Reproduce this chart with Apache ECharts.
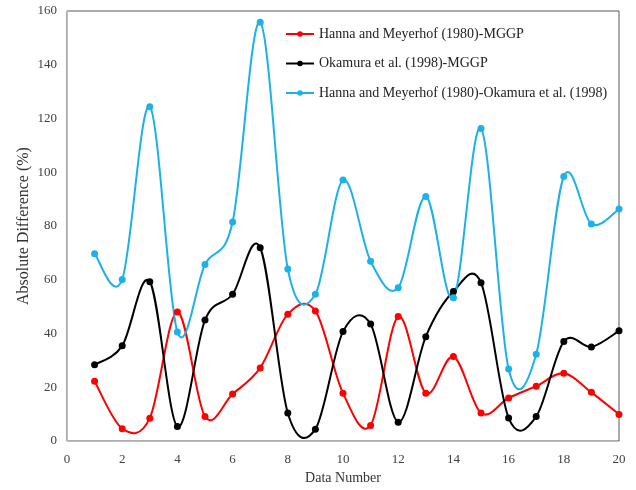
<!DOCTYPE html>
<html>
<head>
<meta charset="utf-8">
<script src="https://cdn.jsdelivr.net/npm/echarts@6/dist/echarts.min.js"></script>
<style>
  html, body { margin: 0; padding: 0; background: #fff; }
  #chart { width: 636px; height: 490px; }
</style>
</head>
<body>
<div id="chart"></div>
<script>
var dataNumbers = [1, 2, 3, 4, 5, 6, 7, 8, 9, 10, 11, 12, 13, 14, 15, 16, 17, 18, 19, 20];
var hannaMggp = [22.2, 4.6, 8.5, 48, 9.1, 17.5, 27.2, 47.2, 48.4, 17.8, 5.8, 46.3, 17.8, 31.4, 10.4, 16, 20.4, 25.2, 18.1, 9.9];
var okamuraMggp = [28.4, 35.4, 59.3, 5.4, 45, 54.6, 71.9, 10.4, 4.4, 40.7, 43.5, 7, 38.8, 55.6, 58.9, 8.6, 9.1, 37, 35, 41];
var hannaOkamura = [69.7, 60.1, 124.4, 40.6, 65.7, 81.5, 155.8, 64, 54.6, 97.1, 66.9, 57, 91, 53.3, 116.3, 26.8, 32.3, 98.4, 80.7, 86.3];
var seriesNames = [
  'Hanna and Meyerhof (1980)-MGGP',
  'Okamura et al. (1998)-MGGP',
  'Hanna and Meyerhof (1980)-Okamura et al. (1998)'
];
var colors = ['#ff0000', '#000000', '#1db1e8'];

var font = '"Liberation Serif", "Times New Roman", serif';

function pairs(vals) {
  return dataNumbers.map(function (x, i) { return [x, vals[i]]; });
}

// Excel-style smoothed curve (Catmull-Rom bezier) through the data, positioned by the axes
function curveSeries(idx, vals) {
  var pts = pairs(vals);
  return {
    name: seriesNames[idx] + ' curve',
    type: 'custom',
    data: pts,
    silent: true,
    renderItem: function (params, api) {
      if (params.dataIndex !== 0) return null;
      var p = pts.map(function (d) { return api.coord(d); });
      var n = p.length;
      var d = 'M' + p[0][0] + ' ' + p[0][1];
      for (var i = 0; i < n - 1; i++) {
        var p0 = p[Math.max(i - 1, 0)], p1 = p[i], p2 = p[i + 1], p3 = p[Math.min(i + 2, n - 1)];
        var c1x = p1[0] + (p2[0] - p0[0]) / 6, c1y = p1[1] + (p2[1] - p0[1]) / 6;
        var c2x = p2[0] - (p3[0] - p1[0]) / 6, c2y = p2[1] - (p3[1] - p1[1]) / 6;
        d += ' C' + c1x + ' ' + c1y + ' ' + c2x + ' ' + c2y + ' ' + p2[0] + ' ' + p2[1];
      }
      return {
        type: 'path',
        shape: { pathData: d },
        style: { stroke: colors[idx], lineWidth: 2, fill: 'none' }
      };
    }
  };
}

function pointSeries(idx, vals) {
  return {
    name: seriesNames[idx],
    type: 'line',
    data: pairs(vals),
    symbol: 'circle',
    symbolSize: 7,
    lineStyle: { width: 0, opacity: 0 },
    itemStyle: { color: colors[idx] }
  };
}

var myChart = echarts.init(document.getElementById('chart'));
var option = {
  animation: false,
  grid: {
    left: 67, right: 17, top: 11, bottom: 47,
    show: true, borderColor: '#595959', borderWidth: 1
  },
  legend: {
    orient: 'vertical',
    left: 285,
    top: 27,
    padding: 0,
    itemWidth: 28,
    itemHeight: 7,
    itemGap: 15.5,
    textStyle: { fontFamily: font, fontSize: 14, color: '#222' },
    data: seriesNames.map(function (n, i) {
      return {
        name: n,
        itemStyle: { color: colors[i] },
        lineStyle: { color: colors[i], width: 2, opacity: 1 }
      };
    })
  },
  xAxis: {
    type: 'value',
    min: 0, max: 20, interval: 2,
    name: 'Data Number',
    nameLocation: 'middle',
    nameGap: 30,
    nameTextStyle: { fontFamily: font, fontSize: 14, color: '#333' },
    axisLine: { lineStyle: { color: '#bfbfbf' } },
    axisTick: { show: false },
    splitLine: { show: false },
    axisLabel: { fontFamily: font, fontSize: 13, color: '#404040', margin: 12 }
  },
  yAxis: {
    type: 'value',
    min: 0, max: 160, interval: 20,
    name: 'Absolute Difference (%)',
    nameLocation: 'middle',
    nameGap: 35,
    nameMoveOverlap: false,
    nameTextStyle: { fontFamily: font, fontSize: 16, color: '#333' },
    axisLine: { show: true, lineStyle: { color: '#bfbfbf' } },
    axisTick: { show: false },
    splitLine: { show: false },
    axisLabel: { fontFamily: font, fontSize: 13, color: '#404040', margin: 10 }
  },
  series: [
    curveSeries(0, hannaMggp), pointSeries(0, hannaMggp),
    curveSeries(1, okamuraMggp), pointSeries(1, okamuraMggp),
    curveSeries(2, hannaOkamura), pointSeries(2, hannaOkamura)
  ]
};
myChart.setOption(option);
</script>
</body>
</html>
